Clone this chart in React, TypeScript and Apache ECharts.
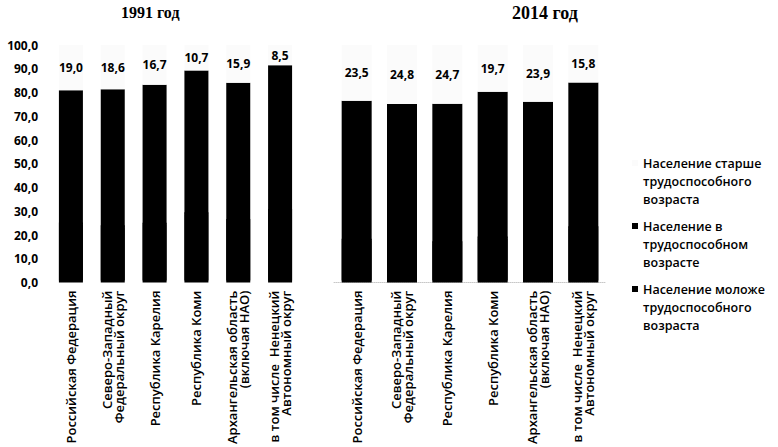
import React, { useEffect, useRef } from "react";
import * as echarts from "echarts";

const categories = [
  "Российская Федерация",
  "Северо-Западный\nФедеральный округ",
  "Республика Карелия",
  "Республика Коми",
  "Архангельская область\n(включая НАО)",
  "в том числе  Ненецкий\nАвтономный округ",
];

const seriesNames = [
  "Население старше\nтрудоспособного\nвозраста",
  "Население в\nтрудоспособном\nвозрасте",
  "Население моложе\nтрудоспособного\nвозраста",
];

const younger1991 = [24.5, 23.3, 24.4, 28.8, 25.9, 30.1];
const working1991 = [56.5, 58.1, 58.9, 60.5, 58.2, 61.4];
const older1991 = [19.0, 18.6, 16.7, 10.7, 15.9, 8.5];

const younger2014 = [17.6, 16.4, 16.6, 18.6, 17.9, 22.9];
const working2014 = [58.9, 58.8, 58.7, 61.7, 58.2, 61.3];
const older2014 = [23.5, 24.8, 24.7, 19.7, 23.9, 15.8];

const periodTitles = ["1991 год", "2014 год"];

const SANS = "'Open Sans', 'Noto Sans', sans-serif";
const SERIF = "'Liberation Serif', 'DejaVu Serif', serif";

const fmt = (v: number) => v.toFixed(1).replace(".", ",");

export default function App() {
  const ref = useRef<HTMLDivElement>(null);

  useEffect(() => {
    if (!ref.current) return;
    const chart = echarts.init(ref.current, undefined, { renderer: "svg" });

    const colors = { older: "#fbfbfb", working: "#000000", younger: "#000000" };

    const legendIcon =
      "path://M0,0H0.05V0.05H0Z M0,6H6V12H0Z M5.95,53.95H6V54H5.95Z";

    const xAxisCommon = {
      type: "category" as const,
      data: categories,
      axisTick: { show: false },
      axisLabel: {
        rotate: 90,
        margin: 8,
        interval: 0,
        color: "#000",
        fontFamily: SANS,
        fontSize: 13,
        fontWeight: 600,
        lineHeight: 12,
      },
    };

    const mkSeries = (
      axis: number,
      stack: string,
      younger: number[],
      working: number[],
      older: number[],
      barWidth: number
    ) => [
      {
        name: seriesNames[2],
        type: "bar" as const,
        stack,
        xAxisIndex: axis,
        yAxisIndex: axis,
        barWidth,
        itemStyle: {
          color: colors.younger,
          shadowColor: "#000000",
          shadowBlur: 0,
          shadowOffsetX: 0,
          shadowOffsetY: -2,
        },
        data: younger,
      },
      {
        name: seriesNames[1],
        type: "bar" as const,
        stack,
        xAxisIndex: axis,
        yAxisIndex: axis,
        barWidth,
        itemStyle: { color: colors.working },
        data: working,
      },
      {
        name: seriesNames[0],
        type: "bar" as const,
        stack,
        xAxisIndex: axis,
        yAxisIndex: axis,
        barWidth,
        itemStyle: { color: colors.older },
        label: {
          show: true,
          position: "inside" as const,
          color: "#000",
          fontFamily: SANS,
          fontSize: 12,
          fontWeight: "bold" as const,
          formatter: (p: any) => fmt(older[p.dataIndex]),
        },
        data: older,
      },
    ];

    chart.setOption({
      animation: false,
      backgroundColor: "#ffffff",
      title: [
        {
          text: periodTitles[0],
          left: 121,
          top: 4,
          padding: 0,
          textStyle: { fontFamily: SERIF, fontSize: 16, fontWeight: "bold", color: "#000" },
        },
        {
          text: periodTitles[1],
          left: 512,
          top: 4,
          padding: 0,
          textStyle: { fontFamily: SERIF, fontSize: 18, fontWeight: "bold", color: "#000" },
        },
      ],
      legend: {
        orient: "vertical",
        left: 632,
        top: 154,
        itemWidth: 6,
        itemHeight: 54,
        itemGap: 9,
        icon: legendIcon,
        symbolKeepAspect: false,
        itemStyle: { borderWidth: 0, shadowBlur: 0, shadowOffsetY: 0, shadowColor: "transparent" },
        padding: 0,
        data: seriesNames,
        textStyle: {
          fontFamily: SANS,
          fontSize: 12.5,
          fontWeight: 600,
          color: "#000",
          lineHeight: 18,
        },
      },
      grid: [
        { left: 50, right: 778 - 301, top: 45, bottom: 447 - 283 },
        { left: 334, right: 778 - 606, top: 45, bottom: 447 - 283 },
      ],
      xAxis: [
        { ...xAxisCommon, gridIndex: 0, axisLine: { show: false } },
        {
          ...xAxisCommon,
          gridIndex: 1,
          axisLine: { show: true, lineStyle: { color: "#c8c8c8", type: "dotted", width: 1 } },
        },
      ],
      yAxis: [
        {
          type: "value",
          gridIndex: 0,
          min: 0,
          max: 100,
          interval: 10,
          axisLine: { show: false },
          axisTick: { show: false },
          splitLine: { show: false },
          axisLabel: {
            margin: 12,
            color: "#000",
            fontFamily: SANS,
            fontSize: 12,
            fontWeight: "bold",
            formatter: (v: number) => fmt(v),
          },
        },
        {
          type: "value",
          gridIndex: 1,
          min: 0,
          max: 100,
          interval: 10,
          show: false,
          splitLine: { show: false },
        },
      ],
      series: [
        ...mkSeries(0, "y1991", younger1991, working1991, older1991, 24),
        ...mkSeries(1, "y2014", younger2014, working2014, older2014, 30),
      ],
    });

    return () => chart.dispose();
  }, []);

  return (
    <div
      ref={ref}
      style={{ position: "fixed", left: 0, top: 0, width: 778, height: 447 }}
    />
  );
}
